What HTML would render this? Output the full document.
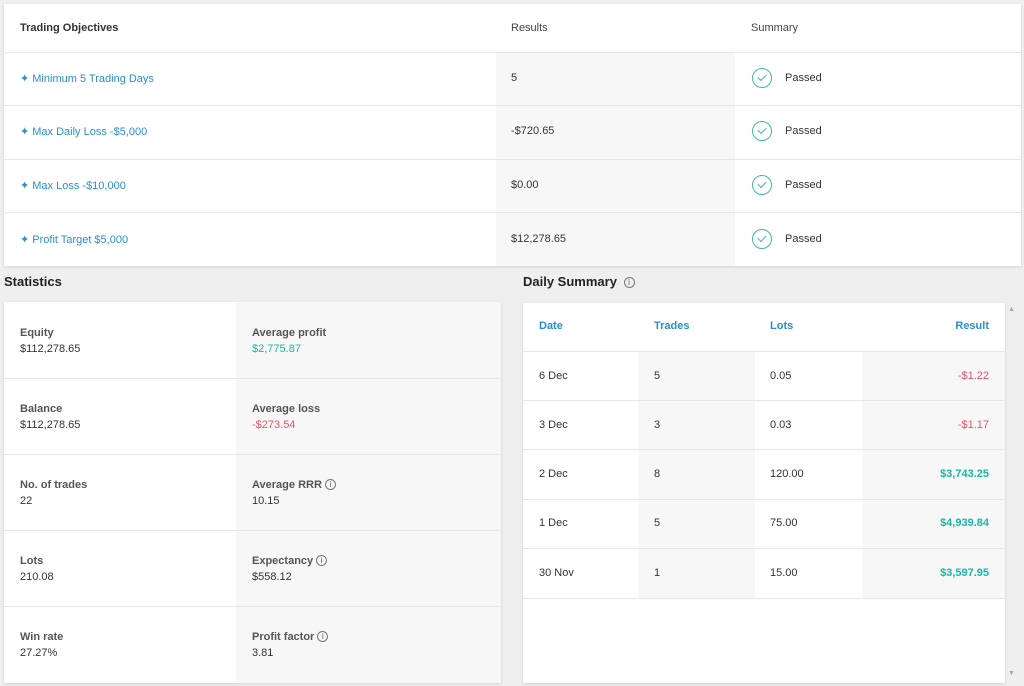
<!DOCTYPE html>
<html><head><style>
*{box-sizing:border-box;margin:0;padding:0}
body{width:1024px;height:686px;background:#efefef;font-family:"Liberation Sans",sans-serif;font-size:11px;color:#333;position:relative;overflow:hidden}
.abs{position:absolute}
.card{position:absolute;background:#fff;box-shadow:0 1px 3px rgba(0,0,0,.12)}
.b{font-weight:bold}
.blue{color:#2a8fcb}
.green{color:#17b8a6}
.red{color:#e0566b}
.hl{position:absolute;height:1px;background:#e6e6e6}
.chk{position:absolute;width:20px;height:20px;border:1.5px solid #3fb9a8;border-radius:50%}
.chk:after{content:"";position:absolute;left:5px;top:3px;width:7px;height:4px;border-left:1.5px solid #3fb9a8;border-bottom:1.5px solid #3fb9a8;transform:rotate(-45deg);top:5px}
.info{display:inline-block;width:11px;height:11px;border:1px solid #777;border-radius:50%;font-size:8px;text-align:center;line-height:9px;vertical-align:1px;margin-left:3px;color:#555;font-weight:normal}
</style></head><body>
<div class="card" style="left:4px;top:4px;width:1017px;height:262px">
 <div class="abs" style="left:492px;top:48px;width:239px;height:214px;background:#f7f7f7"></div>
 <div class="abs b" style="left:16px;top:18px">Trading Objectives</div>
 <div class="abs" style="left:507px;top:18px;color:#444">Results</div>
 <div class="abs" style="left:747px;top:18px;color:#444">Summary</div>
 <div class="hl" style="left:0;top:48px;width:1017px"></div>
 <div class="hl" style="left:0;top:101px;width:1017px"></div>
 <div class="hl" style="left:0;top:155px;width:1017px"></div>
 <div class="hl" style="left:0;top:208px;width:1017px"></div>
 <div class="abs blue" style="left:16px;top:68px">✦ Minimum 5 Trading Days</div>
 <div class="abs blue" style="left:16px;top:121px">✦ Max Daily Loss -$5,000</div>
 <div class="abs blue" style="left:16px;top:175px">✦ Max Loss -$10,000</div>
 <div class="abs blue" style="left:16px;top:229px">✦ Profit Target $5,000</div>
 <div class="abs" style="left:507px;top:68px">5</div>
 <div class="abs" style="left:507px;top:121px">-$720.65</div>
 <div class="abs" style="left:507px;top:175px">$0.00</div>
 <div class="abs" style="left:507px;top:229px">$12,278.65</div>
 <div class="chk" style="left:748px;top:64px"></div><div class="abs" style="left:781px;top:68px">Passed</div>
 <div class="chk" style="left:748px;top:117px"></div><div class="abs" style="left:781px;top:121px">Passed</div>
 <div class="chk" style="left:748px;top:171px"></div><div class="abs" style="left:781px;top:175px">Passed</div>
 <div class="chk" style="left:748px;top:225px"></div><div class="abs" style="left:781px;top:229px">Passed</div>
</div>
<div class="abs b" style="left:4px;top:274px;font-size:13px;color:#222">Statistics</div>
<div class="abs b" style="left:523px;top:274px;font-size:13px;color:#222">Daily Summary <span class="info">i</span></div>
<div class="card" style="left:4px;top:302px;width:497px;height:381px">
 <div class="abs" style="left:232px;top:0;width:265px;height:381px;background:#f7f7f7"></div>
 <div class="hl" style="left:0;top:76px;width:497px"></div>
 <div class="hl" style="left:0;top:152px;width:497px"></div>
 <div class="hl" style="left:0;top:228px;width:497px"></div>
 <div class="hl" style="left:0;top:304px;width:497px"></div>
 <div class="abs" style="left:16px;top:23px;line-height:16px"><span class="b" style="color:#555">Equity</span><br>$112,278.65</div>
 <div class="abs" style="left:16px;top:99px;line-height:16px"><span class="b" style="color:#555">Balance</span><br>$112,278.65</div>
 <div class="abs" style="left:16px;top:175px;line-height:16px"><span class="b" style="color:#555">No. of trades</span><br>22</div>
 <div class="abs" style="left:16px;top:251px;line-height:16px"><span class="b" style="color:#555">Lots</span><br>210.08</div>
 <div class="abs" style="left:16px;top:327px;line-height:16px"><span class="b" style="color:#555">Win rate</span><br>27.27%</div>
 <div class="abs" style="left:248px;top:23px;line-height:16px"><span class="b" style="color:#555">Average profit</span><br><span class="green">$2,775.87</span></div>
 <div class="abs" style="left:248px;top:99px;line-height:16px"><span class="b" style="color:#555">Average loss</span><br><span class="red">-$273.54</span></div>
 <div class="abs" style="left:248px;top:175px;line-height:16px"><span class="b" style="color:#555">Average RRR</span><span class="info">i</span><br>10.15</div>
 <div class="abs" style="left:248px;top:251px;line-height:16px"><span class="b" style="color:#555">Expectancy</span><span class="info">i</span><br>$558.12</div>
 <div class="abs" style="left:248px;top:327px;line-height:16px"><span class="b" style="color:#555">Profit factor</span><span class="info">i</span><br>3.81</div>
</div>
<div class="card" style="left:523px;top:303px;width:482px;height:380px">
 <div class="abs" style="left:115px;top:48px;width:117px;height:247px;background:#f7f7f7"></div>
 <div class="abs" style="left:339px;top:48px;width:143px;height:247px;background:#f7f7f7"></div>
 <div class="abs b blue" style="left:16px;top:17px">Date</div>
 <div class="abs b blue" style="left:131px;top:17px">Trades</div>
 <div class="abs b blue" style="left:247px;top:17px">Lots</div>
 <div class="abs b blue" style="right:16px;top:17px">Result</div>
 <div class="hl" style="left:0;top:48px;width:482px"></div>
 <div class="hl" style="left:0;top:97px;width:482px"></div>
 <div class="hl" style="left:0;top:146px;width:482px"></div>
 <div class="hl" style="left:0;top:196px;width:482px"></div>
 <div class="hl" style="left:0;top:245px;width:482px"></div>
 <div class="hl" style="left:0;top:295px;width:482px"></div>
 <div class="abs" style="left:16px;top:67px">6 Dec</div><div class="abs" style="left:131px;top:67px">5</div><div class="abs" style="left:247px;top:67px">0.05</div><div class="abs red" style="right:16px;top:67px">-$1.22</div>
 <div class="abs" style="left:16px;top:116px">3 Dec</div><div class="abs" style="left:131px;top:116px">3</div><div class="abs" style="left:247px;top:116px">0.03</div><div class="abs red" style="right:16px;top:116px">-$1.17</div>
 <div class="abs" style="left:16px;top:165px">2 Dec</div><div class="abs" style="left:131px;top:165px">8</div><div class="abs" style="left:247px;top:165px">120.00</div><div class="abs green b" style="right:16px;top:165px">$3,743.25</div>
 <div class="abs" style="left:16px;top:214px">1 Dec</div><div class="abs" style="left:131px;top:214px">5</div><div class="abs" style="left:247px;top:214px">75.00</div><div class="abs green b" style="right:16px;top:214px">$4,939.84</div>
 <div class="abs" style="left:16px;top:264px">30 Nov</div><div class="abs" style="left:131px;top:264px">1</div><div class="abs" style="left:247px;top:264px">15.00</div><div class="abs green b" style="right:16px;top:264px">$3,597.95</div>
</div>
<div class="abs" style="left:1008px;top:306px;font-size:7px;color:#aaa">▲</div>
<div class="abs" style="left:1008px;top:670px;font-size:7px;color:#aaa">▼</div>
</body></html>
